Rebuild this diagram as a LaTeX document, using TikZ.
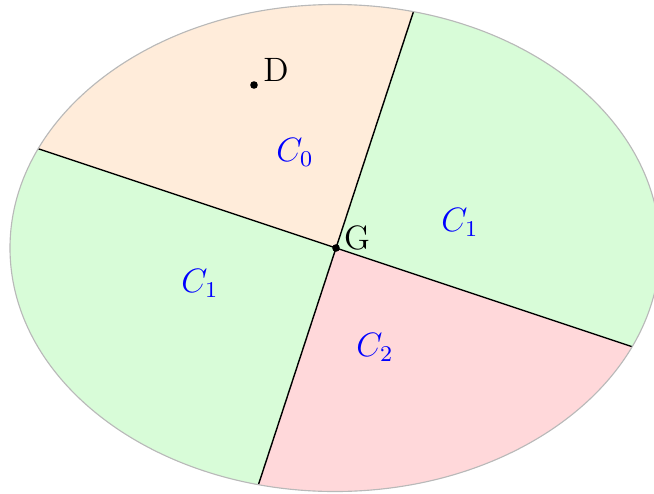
\documentclass[tikz,border=0pt]{standalone}
\usetikzlibrary{calc}
\definecolor{peach}{RGB}{255,236,218}
\definecolor{lgreen}{RGB}{216,252,216}
\definecolor{lpink}{RGB}{255,216,218}
\definecolor{rimgray}{RGB}{185,185,185}
\begin{document}
\begin{tikzpicture}[x=0.355pt,y=-0.355pt,
  region/.style={draw=none},
  divider/.style={draw=black,line width=0.5pt},
  rim/.style={draw=rimgray,line width=0.4pt},
  pt/.style={circle,fill=black,inner sep=0pt,minimum size=2.7pt},
  lbl/.style={inner sep=0pt,font=\large},
  cls/.style={inner sep=0pt,text=blue,font=\large}]
\useasboundingbox (0,0) rectangle (654,493);
\clip (0,0) rectangle (654,493);
\coordinate (O) at (335,248);
\coordinate (Gc) at (336,248);
\coordinate (A1) at ($(Gc)!-2!(633,347)$);
\coordinate (A2) at ($(Gc)!2!(633,347)$);
\coordinate (B1) at ($(Gc)!-2!(258,486)$);
\coordinate (B2) at ($(Gc)!2!(258,486)$);
\begin{scope}
  \clip (O) ellipse [x radius=325, y radius=-243.5];
  \fill[lgreen] (-50,-50) rectangle (720,560);
  \fill[peach] (Gc) -- (A1) -- ($(A1)+(B1)-(Gc)$) -- (B1) -- cycle;
  \fill[lpink] (Gc) -- (A2) -- ($(A2)+(B2)-(Gc)$) -- (B2) -- cycle;
  \draw[divider] (A1) -- (A2);
  \draw[divider] (B1) -- (B2);
\end{scope}
\draw[rim] (O) ellipse [x radius=325, y radius=-243.5];
\node[pt] (G) at (Gc) {};
\node[pt] (D) at (254,85) {};
\node[lbl] (Glbl) at (357,238) {G};
\node[lbl] (Dlbl) at (276,70) {D};
\node[cls] (c0) at (295,152) {$C_0$};
\node[cls] (c1r) at (460,222) {$C_1$};
\node[cls] (c1l) at (200,283) {$C_1$};
\node[cls] (c2) at (375,347) {$C_2$};
\end{tikzpicture}
\end{document}
